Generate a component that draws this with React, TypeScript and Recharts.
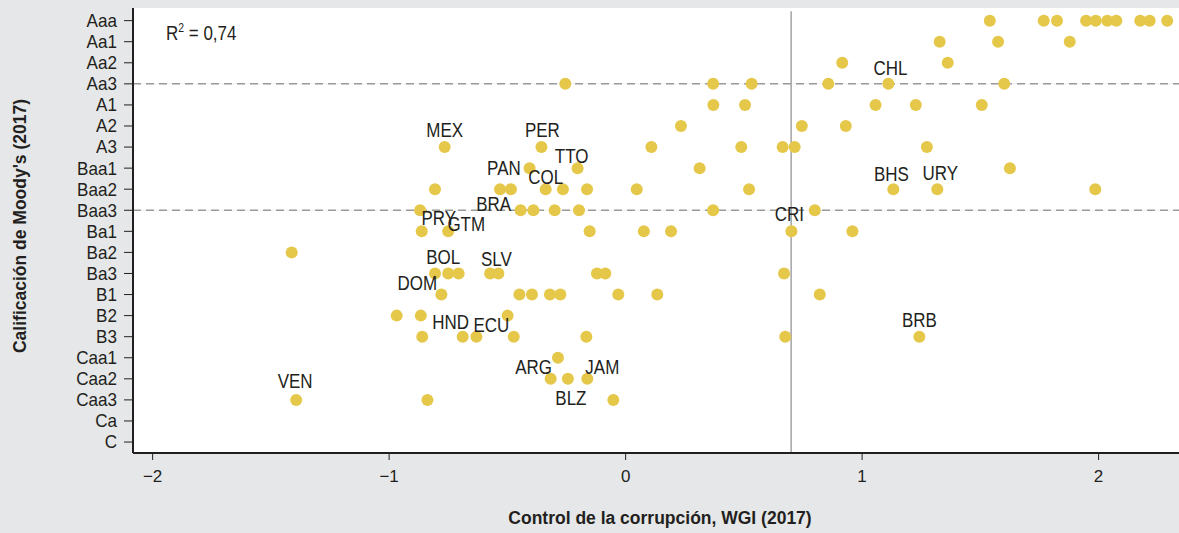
import React from 'react';
import { ScatterChart, Scatter, XAxis, YAxis, CartesianGrid, ReferenceLine } from 'recharts';

// Moody's rating scale, lowest first (numeric value = index + 1)
const RATINGS = ['C', 'Ca', 'Caa3', 'Caa2', 'Caa1', 'B3', 'B2', 'B1', 'Ba3', 'Ba2', 'Ba1',
  'Baa3', 'Baa2', 'Baa1', 'A3', 'A2', 'A1', 'Aa3', 'Aa2', 'Aa1', 'Aaa'];

// Control of corruption (WGI 2017) values of countries, grouped by rating
const ROWS: [string, number[]][] = [
  ['Aaa', [1.540, 1.768, 1.824, 1.947, 1.988, 2.037, 2.075, 2.176, 2.216, 2.290]],
  ['Aa1', [1.328, 1.575, 1.878]],
  ['Aa2', [0.916, 1.362]],
  ['Aa3', [-0.255, 0.370, 0.533, 0.857, 1.111, 1.601]],
  ['A1', [0.371, 0.505, 1.057, 1.227, 1.506]],
  ['A2', [0.234, 0.745, 0.931]],
  ['A3', [-0.765, -0.356, 0.109, 0.489, 0.664, 0.715, 1.274]],
  ['Baa1', [-0.406, -0.203, 0.313, 1.625]],
  ['Baa2', [-0.806, -0.531, -0.485, -0.338, -0.265, -0.163, 0.047, 0.522, 1.132, 1.318, 1.986]],
  ['Baa3', [-0.869, -0.444, -0.390, -0.300, -0.197, 0.370, 0.800]],
  ['Ba1', [-0.862, -0.750, -0.152, 0.077, 0.192, 0.701, 0.959]],
  ['Ba2', [-1.412]],
  ['Ba3', [-0.806, -0.750, -0.706, -0.573, -0.538, -0.121, -0.086, 0.670]],
  ['B1', [-0.779, -0.449, -0.396, -0.320, -0.276, -0.031, 0.134, 0.821]],
  ['B2', [-0.968, -0.866, -0.499]],
  ['B3', [-0.860, -0.689, -0.631, -0.473, -0.166, 0.675, 1.242]],
  ['Caa1', [-0.286]],
  ['Caa2', [-0.317, -0.244, -0.162]],
  ['Caa3', [-1.393, -0.838, -0.052]],
];

// Labelled countries: [code, rating, WGI]
const LABELED: [string, string, number][] = [
  ['CHL', 'Aa3', 1.111], ['MEX', 'A3', -0.765], ['PER', 'A3', -0.356], ['TTO', 'Baa1', -0.203],
  ['PAN', 'Baa2', -0.485], ['COL', 'Baa2', -0.338], ['BHS', 'Baa2', 1.132], ['URY', 'Baa2', 1.318],
  ['BRA', 'Baa3', -0.444], ['PRY', 'Ba1', -0.862], ['GTM', 'Ba1', -0.750], ['CRI', 'Ba1', 0.701],
  ['BOL', 'Ba3', -0.750], ['SLV', 'Ba3', -0.538], ['DOM', 'B1', -0.779], ['HND', 'B3', -0.689],
  ['ECU', 'B3', -0.631], ['BRB', 'B3', 1.242], ['ARG', 'Caa2', -0.317], ['JAM', 'Caa2', -0.162],
  ['BLZ', 'Caa2', -0.244], ['VEN', 'Caa3', -1.393],
];

const X_TICKS = [-2, -1, 0, 1, 2];
const THRESHOLD_X = 0.70;
const DASHED_RATINGS = ['Aa3', 'Baa3'];
const R2_TEXT = '0,74';
const X_TITLE = 'Control de la corrupción, WGI (2017)';
const Y_TITLE = "Calificación de Moody's (2017)";

// label placement offsets (px) relative to the dot centre
const LABEL_OFFSETS: Record<string, [number, number]> = {
  CHL: [2, -9], MEX: [0, -10], PER: [1, -10], TTO: [-6, -5], PAN: [-7, -14], COL: [0, -5],
  BHS: [-2, -8], URY: [3, -9], BRA: [-27, 1], PRY: [17, -6], GTM: [18, 0], CRI: [-2, -10],
  BOL: [-5, -9], SLV: [-2, -7], DOM: [-24, -5], HND: [-12, -8], ECU: [15, -5], BRB: [0, -10],
  ARG: [-17, -5], JAM: [15, -5], BLZ: [3, 26], VEN: [-1, -12],
};

const rnum = (r: string) => RATINGS.indexOf(r) + 1;
const points = ROWS.flatMap(([r, xs]) => xs.map((x) => ({ x, y: rnum(r) })));
const labelPoints = LABELED.map(([code, r, x]) => ({ x, y: rnum(r), code }));

const FONT = "'Liberation Sans', Arial, Helvetica, sans-serif";
const INK = '#231f20';
const DOT = '#e5c84a';
const NARROW = 0.87;
const LBL_SIZE = 19.5;

const W = 1179;
const H = 533;

const Dot = (p: any) => <circle cx={p.cx} cy={p.cy} r={6} fill={DOT} />;
const Lbl = (p: any) => {
  const code = p.payload.code as string;
  const o = LABEL_OFFSETS[code] || [0, -10];
  return (
    <text
      transform={`translate(${p.cx + o[0]},${p.cy + o[1]}) scale(${NARROW},1)`}
      x={0}
      y={0}
      textAnchor="middle"
      fontSize={LBL_SIZE}
      fontFamily={FONT}
      fill={INK}
    >
      {code}
    </text>
  );
};

const YTick = (p: any) => {
  const label = RATINGS[p.payload.value - 1] || '';
  return (
    <text
      transform={`translate(${p.x},${p.y}) scale(0.95,1)`}
      x={0}
      y={0}
      dy="0.355em"
      textAnchor="end"
      fontSize={18}
      fontFamily={FONT}
      fill={INK}
    >
      {label}
    </text>
  );
};

const fmtX = (v: number) => (v < 0 ? '\u2212' + Math.abs(v) : String(v));

export default function App() {
  return (
    <div style={{ position: 'absolute', left: 0, top: 0, width: W, height: H, background: '#e6e7e8' }}>
      <ScatterChart width={W} height={H} margin={{ top: 8, right: 0, bottom: 0, left: 0 }}>
        <CartesianGrid fill="#ffffff" horizontal={false} vertical={false} stroke="none" />
        <XAxis
          type="number"
          dataKey="x"
          domain={[-2.083, 2.34]}
          ticks={X_TICKS}
          allowDataOverflow
          height={80}
          tickFormatter={fmtX}
          tickSize={7}
          tickMargin={10}
          axisLine={{ stroke: INK, strokeWidth: 2 }}
          tickLine={{ stroke: INK, strokeWidth: 1 }}
          tick={{ fill: INK, fontSize: 17, fontFamily: FONT }}
        />
        <YAxis
          type="number"
          dataKey="y"
          domain={[0.48, 21.6]}
          ticks={RATINGS.map((_, i) => i + 1)}
          interval={0}
          allowDataOverflow
          width={133}
          tickSize={9}
          tickMargin={7}
          axisLine={{ stroke: INK, strokeWidth: 2 }}
          tickLine={{ stroke: INK, strokeWidth: 1 }}
          tick={YTick}
        />
        {DASHED_RATINGS.map((r) => (
          <ReferenceLine key={'s' + r} y={rnum(r)} stroke="#efefef" strokeWidth={1} />
        ))}
        {DASHED_RATINGS.map((r) => (
          <ReferenceLine key={'d' + r} y={rnum(r)} stroke="#9a9a9a" strokeWidth={1.5} strokeDasharray="8 5" />
        ))}
        <ReferenceLine
          segment={[{ x: THRESHOLD_X, y: 0.48 }, { x: THRESHOLD_X, y: 21.45 }]}
          stroke="#a3a3a3"
          strokeWidth={1.5}
        />
        <Scatter data={points} shape={Dot} isAnimationActive={false} />
        <Scatter data={labelPoints} shape={Lbl} isAnimationActive={false} />
      </ScatterChart>
      <svg width={W} height={H} style={{ position: 'absolute', left: 0, top: 0, pointerEvents: 'none' }}>
        <text
          transform={`translate(166,40) scale(${NARROW},1)`}
          x={0}
          y={0}
          fontSize={LBL_SIZE}
          fontFamily={FONT}
          fill={INK}
        >
          R<tspan fontSize={12} dy={-8}>2</tspan>
          <tspan dy={8}>{' = ' + R2_TEXT}</tspan>
        </text>
        <text x={660} y={524} textAnchor="middle" fontSize={17.5} fontWeight="bold" fontFamily={FONT} fill={INK}>
          {X_TITLE}
        </text>
        <text
          x={26}
          y={226}
          textAnchor="middle"
          fontSize={17.5}
          fontWeight="bold"
          fontFamily={FONT}
          fill={INK}
          transform="rotate(-90 26 226)"
        >
          {Y_TITLE}
        </text>
      </svg>
    </div>
  );
}
